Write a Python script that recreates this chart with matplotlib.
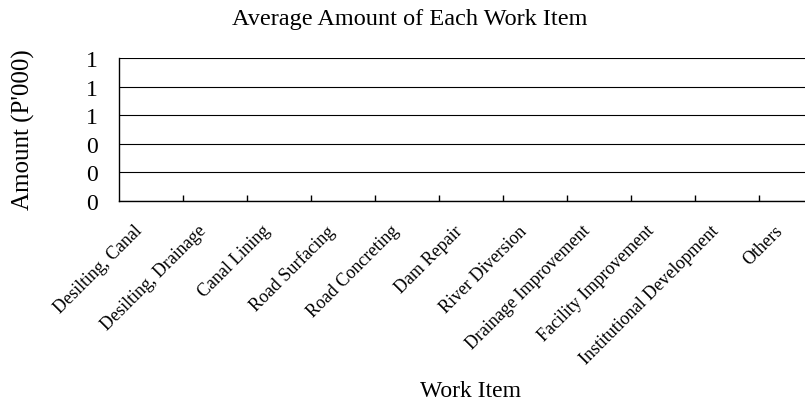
import numpy as np
import matplotlib
matplotlib.use("Agg")
import matplotlib.pyplot as plt
import matplotlib.transforms as mtransforms
from matplotlib.ticker import FormatStrFormatter, FixedLocator

plt.rcParams['font.family'] = ['Liberation Serif', 'DejaVu Serif']

# Work items and their average amounts (the chart shows no bars)
categories = ['Desilting, Canal', 'Desilting, Drainage', 'Canal Lining',
              'Road Surfacing', 'Road Concreting', 'Dam Repair',
              'River Diversion', 'Drainage Improvement', 'Facility Improvement',
              'Institutional Development', 'Others']
amounts = [0, 0, 0, 0, 0, 0, 0, 0, 0, 0, 0]
y_ticks = [0, 0.2, 0.4, 0.6, 0.8, 1.0]

W, H = 805, 406
fig = plt.figure(figsize=(W / 100, H / 100), dpi=100)
# plot area runs a little past the right edge, as in the reference
ax = fig.add_axes([119 / W, 1 - 202 / H, (823 - 119) / W, (202 - 59) / H])

x = np.arange(len(categories))
ax.bar(x, amounts, width=0.6, color='#9999ff', linewidth=0)

ax.set_xlim(-0.5, len(categories) - 0.5)
ax.set_ylim(0, 1)
ax.set_yticks(y_ticks)
ax.yaxis.set_major_formatter(FormatStrFormatter('%.0f'))
ax.tick_params(axis='y', length=0, pad=15, labelsize=17)
ax.grid(axis='y', color='black', linewidth=0.8)
ax.set_axisbelow(True)

ax.set_xticks(x)
ax.set_xticklabels(categories, rotation=45, ha='right', fontsize=13)
ax.tick_params(axis='x', which='major', length=0, pad=15)
ax.xaxis.set_minor_locator(FixedLocator(np.arange(0.5, len(categories) - 0.5, 1)))
ax.tick_params(axis='x', which='minor', direction='in', length=4, width=1)

# nudge the slanted labels a few pixels left
shift = mtransforms.ScaledTranslation(-5 / 100, 0, fig.dpi_scale_trans)
for lbl in ax.get_xticklabels():
    lbl.set_transform(lbl.get_transform() + shift)

for side in ['top', 'right']:
    ax.spines[side].set_visible(False)
for side in ['left', 'bottom']:
    ax.spines[side].set_linewidth(1.0)

fig.text(410 / W, 1 - 19 / H, 'Average Amount of Each Work Item',
         ha='center', va='center', fontsize=17.5)
fig.text(23 / W, 1 - 130 / H, "Amount (P'000)", rotation=90,
         ha='center', va='center', fontsize=18)
fig.text(470 / W, 1 - 392 / H, 'Work Item', ha='center', va='center', fontsize=17)

fig.savefig('out.png', dpi=100)
